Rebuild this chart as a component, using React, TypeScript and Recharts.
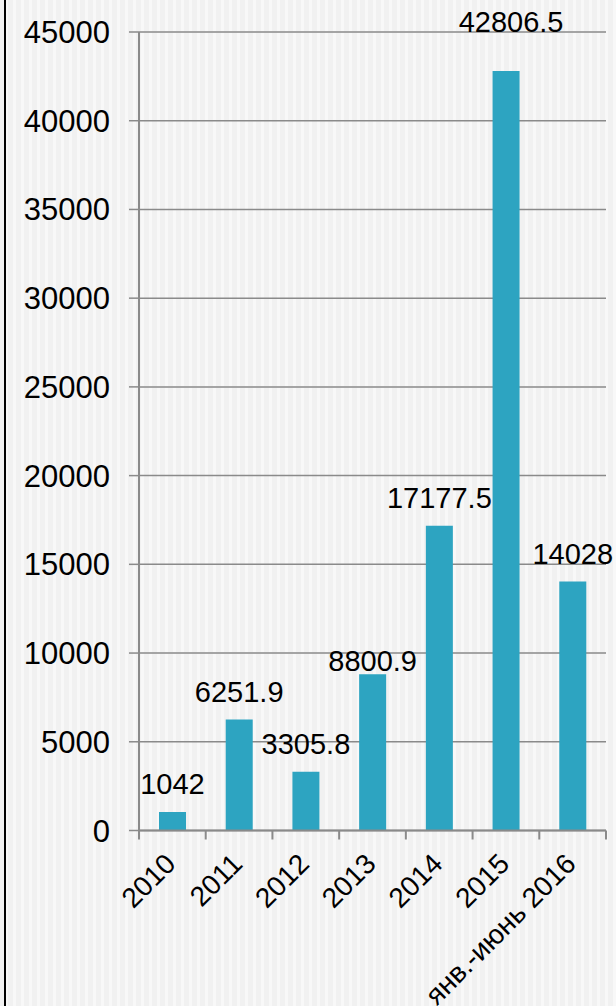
import { BarChart, Bar, XAxis, YAxis, CartesianGrid, LabelList } from "recharts";

const periods: string[] = ["2010", "2011", "2012", "2013", "2014", "2015", "янв.-июнь 2016"];
const amounts: number[] = [1042, 6251.9, 3305.8, 8800.9, 17177.5, 42806.5, 14028];
const yTicks: number[] = [0, 5000, 10000, 15000, 20000, 25000, 30000, 35000, 40000, 45000];

// hand-placed label tweaks seen in the original slide (dx, dy)
const labelNudge: [number, number][] = [
  [0, 0],
  [0, 0],
  [0, 0],
  [0, 15],
  [0, 0],
  [5, -21],
  [0, 0],
];

const data = periods.map((p, i) => ({ period: p, value: amounts[i] }));

const FONT = "'Liberation Sans', Arial, sans-serif";
const GREY = "#8a8a8a";
const BAR = "#2da4c1";

function PeriodTick(props: any) {
  const { x, y, payload, index } = props;
  const half = payload?.offset ?? 33.4;
  const last = index === periods.length - 1;
  return (
    <g>
      <line x1={x - half} x2={x - half} y1={y} y2={y + 9} stroke={GREY} strokeWidth={2} />
      {last && <line x1={x + half} x2={x + half} y1={y} y2={y + 9} stroke={GREY} strokeWidth={2} />}
      <text
        transform={`translate(${x + 5},${y + 35}) rotate(-45)`}
        textAnchor="end"
        fontSize={28}
        fontFamily={FONT}
        fill="#000"
      >
        {payload.value}
      </text>
    </g>
  );
}

function ValueLabel(props: any) {
  const { x, y, width, value, index } = props;
  const [dx, dy] = labelNudge[index] ?? [0, 0];
  return (
    <text
      x={x + width / 2 + dx}
      y={y - 18 + dy}
      textAnchor="middle"
      fontSize={29}
      fontFamily={FONT}
      fill="#000"
    >
      {value}
    </text>
  );
}

export default function App() {
  return (
    <div
      style={{
        position: "absolute",
        left: 0,
        top: 0,
        width: 616,
        height: 1006,
        overflow: "hidden",
        background:
          "repeating-linear-gradient(90deg, #f1f1f1 0px, #f1f1f1 5px, #f8f8f8 5px, #f8f8f8 8px)",
      }}
    >
      <div style={{ position: "absolute", left: 4, top: 0, width: 2, height: 1006, background: "#000" }} />
      <BarChart
        width={616}
        height={1006}
        data={data}
        margin={{ top: 32, right: 10, bottom: 0, left: 0 }}
        barSize={27}
      >
        <CartesianGrid vertical={false} stroke={GREY} strokeWidth={1.5} />
        <YAxis
          width={139}
          domain={[0, 45000]}
          ticks={yTicks}
          interval={0}
          tickSize={10}
          tickMargin={19}
          axisLine={{ stroke: GREY, strokeWidth: 2 }}
          tickLine={{ stroke: GREY, strokeWidth: 1.5 }}
          tick={{ fontSize: 31, fill: "#000", fontFamily: FONT }}
        />
        <XAxis
          dataKey="period"
          height={175.5}
          interval={0}
          tickSize={0}
          tickMargin={0}
          axisLine={{ stroke: GREY, strokeWidth: 2 }}
          tickLine={false}
          tick={<PeriodTick />}
        />
        <Bar dataKey="value" fill={BAR} isAnimationActive={false}>
          <LabelList dataKey="value" content={<ValueLabel />} />
        </Bar>
      </BarChart>
    </div>
  );
}
